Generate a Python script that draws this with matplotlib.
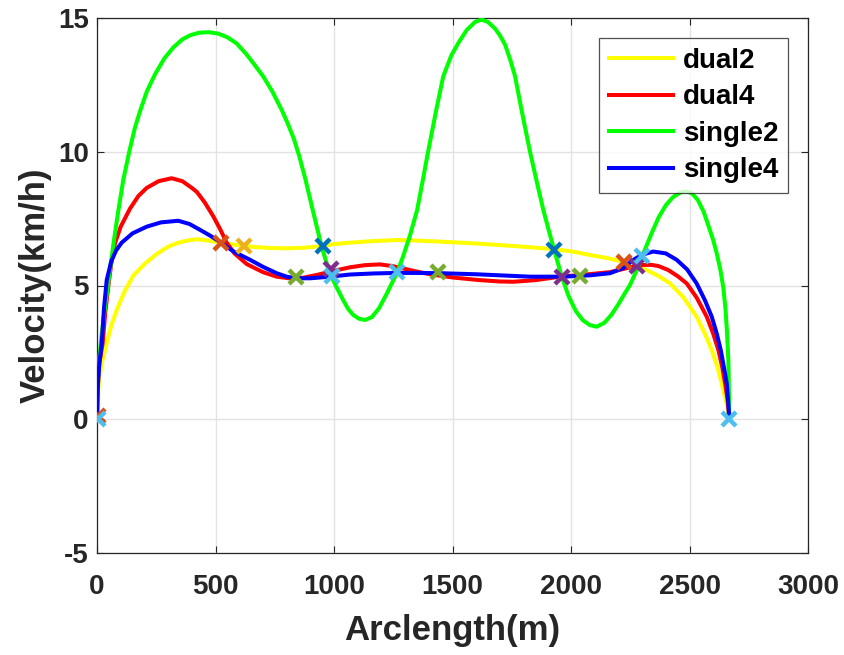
import matplotlib
matplotlib.use("Agg")
import matplotlib.pyplot as plt

plt.rcParams['font.family'] = ['Liberation Sans', 'DejaVu Sans']
plt.rcParams['font.weight'] = 'bold'
plt.rcParams['axes.unicode_minus'] = False

# dual2 (yellow)
dual2_x = [0, 3, 8, 20, 41, 60, 83, 115, 153, 200, 252, 300, 336, 380, 421, 470, 533, 600, 674, 740,
           800, 870, 948, 1000, 1067, 1165, 1265, 1350, 1447, 1560, 1686, 1800, 1925, 2000, 2080, 2150,
           2221, 2270, 2319, 2370, 2418, 2475, 2530, 2565, 2594, 2618, 2636, 2652, 2662, 2668]
dual2_v = [0, 0.8, 1.4, 2.1, 2.85, 3.5, 4.08, 4.75, 5.37, 5.8, 6.18, 6.45, 6.58, 6.68, 6.73, 6.68, 6.58, 6.5, 6.43, 6.4,
           6.39, 6.41, 6.47, 6.55, 6.6, 6.66, 6.7, 6.68, 6.64, 6.59, 6.52, 6.45, 6.36, 6.28, 6.14, 6.03,
           5.89, 5.75, 5.58, 5.35, 5.08, 4.55, 3.83, 3.2, 2.58, 1.95, 1.34, 0.75, 0.35, 0]

# dual4 (red)
dual4_x = [0, 2, 5, 10, 24, 35, 48, 60, 76, 100, 139, 175, 210, 260, 315, 360, 400, 421, 455, 491,
           520, 547, 580, 632, 700, 758, 810, 870, 930, 1000, 1067, 1130, 1194, 1250, 1300, 1350, 1405,
           1500, 1616, 1700, 1757, 1850, 1954, 2050, 2165, 2250, 2305, 2340, 2368, 2410, 2450, 2488,
           2530, 2573, 2600, 2622, 2638, 2650, 2660, 2665, 2668]
dual4_v = [0, 0.8, 1.5, 2.1, 2.85, 4.0, 5.0, 5.8, 6.58, 7.2, 7.87, 8.35, 8.65, 8.9, 9.01, 8.9, 8.65, 8.5, 8.1, 7.58,
           7.1, 6.6, 6.2, 5.8, 5.5, 5.33, 5.27, 5.29, 5.4, 5.55, 5.68, 5.76, 5.79, 5.72, 5.62, 5.52, 5.42,
           5.3, 5.2, 5.15, 5.14, 5.2, 5.33, 5.4, 5.5, 5.68, 5.77, 5.77, 5.73, 5.58, 5.35, 5.08,
           4.55, 3.83, 3.2, 2.58, 1.95, 1.34, 0.75, 0.35, 0]

# single2 (green)
single2_x = [0, 2, 5, 10, 20, 34, 52, 70, 90, 111, 136, 160, 181, 210, 245, 285, 322, 360, 392, 430,
             470, 510, 550, 589, 630, 665, 701, 740, 779, 805, 830, 853, 880, 910, 930, 948, 965, 983,
             1010, 1039, 1060, 1081, 1105, 1131, 1160, 1190, 1220, 1245, 1265, 1290, 1320, 1351, 1375, 1397,
             1430, 1461, 1495, 1525, 1560, 1595, 1623, 1650, 1680, 1700, 1722, 1745, 1764, 1795,
             1827, 1855, 1883, 1905, 1928, 1961, 1990, 2020, 2050, 2080, 2108, 2140, 2170,
             2200, 2230, 2249, 2284, 2310, 2340, 2370, 2400, 2430, 2460, 2485, 2510, 2535, 2560, 2585,
             2600, 2615, 2630, 2643, 2652, 2658, 2664, 2666, 2668]
single2_v = [0, 0.9, 1.6, 2.3, 3.2, 4.2, 5.4, 6.6, 7.8, 8.95, 10.0, 10.9, 11.5, 12.25, 12.9, 13.5, 13.9, 14.2, 14.35, 14.45,
             14.47, 14.42, 14.28, 14.05, 13.65, 13.25, 12.82, 12.25, 11.57, 11.05, 10.5, 9.85, 8.95, 7.83, 7.1, 6.45, 5.95, 5.45,
             4.95, 4.45, 4.12, 3.9, 3.76, 3.71, 3.82, 4.15, 4.65, 5.1, 5.46, 6.05, 6.85, 7.83, 8.95, 10.0,
             11.5, 12.82, 13.6, 14.07, 14.55, 14.85, 14.94, 14.85, 14.6, 14.35, 14.0, 13.4, 12.82, 11.4,
             10.0, 8.9, 7.83, 7.1, 6.36, 5.33, 4.6, 4.05, 3.7, 3.52, 3.46, 3.6, 3.9,
             4.3, 4.75, 5.02, 5.70, 6.3, 6.95, 7.55, 8.0, 8.3, 8.47, 8.52, 8.45, 8.2, 7.75, 7.1,
             6.7, 6.2, 5.6, 4.9, 4.1, 3.3, 2.2, 1.2, 0]

# single4 (blue)
single4_x = [0, 2, 5, 10, 20, 30, 41, 60, 80, 104, 150, 210, 270, 343, 390, 435, 480, 526, 580, 646,
             700, 758, 800, 843, 900, 983, 1067, 1165, 1265, 1350, 1447, 1600, 1700, 1827, 1968, 2080,
             2165, 2220, 2263, 2300, 2347, 2400, 2446, 2490, 2530, 2565, 2594, 2615, 2632, 2645, 2657,
             2663, 2668]
single4_v = [0, 0.8, 1.5, 2.1, 2.85, 4.2, 5.2, 5.9, 6.3, 6.6, 6.95, 7.2, 7.36, 7.42, 7.3, 7.08, 6.85, 6.58, 6.25, 5.96,
             5.7, 5.46, 5.33, 5.27, 5.27, 5.33, 5.41, 5.45, 5.47, 5.47, 5.46, 5.42, 5.38, 5.33, 5.33, 5.38,
             5.46, 5.65, 5.96, 6.15, 6.27, 6.2, 5.96, 5.6, 5.08, 4.45, 3.83, 3.2, 2.58, 1.95, 1.34,
             0.7, 0]

# waypoint markers
wp_x = [5, 522, 622, 840, 952, 986, 990, 1267, 1440, 1928, 1963, 2038, 2225, 2280, 2301, 5, 2668]
wp_v = [0.12, 6.58, 6.48, 5.31, 6.48, 5.61, 5.36, 5.49, 5.49, 6.33, 5.31, 5.36, 5.86, 5.73, 6.10, 0, 0]
wp_c = ['#D95319', '#D95319', '#EDB120', '#77AC30', '#0072BD', '#7E2F8E', '#4DBEEE', '#4DBEEE',
        '#77AC30', '#0072BD', '#7E2F8E', '#77AC30', '#D95319', '#7E2F8E', '#4DBEEE', '#4DBEEE', '#4DBEEE']

series = [("dual2", dual2_x, dual2_v, "#FFFF00"),
          ("dual4", dual4_x, dual4_v, "#FF0000"),
          ("single2", single2_x, single2_v, "#00FF00"),
          ("single4", single4_x, single4_v, "#0000FF")]

fig = plt.figure(figsize=(8.45, 6.55), dpi=100)
ax = fig.add_axes([97/845, 102/655, 711/845, 535/655])

for name, xs, vs, c in series:
    ax.plot(xs, vs, color=c, lw=2.9, label=name, zorder=3, solid_joinstyle='round')

for x, v, c in zip(wp_x, wp_v, wp_c):
    ax.plot([x], [v], marker='x', color=c, ms=10, mew=3.2, ls='none', zorder=5)

ax.set_xlim(0, 3000)
ax.set_ylim(-5, 15)
ax.set_xticks([0, 500, 1000, 1500, 2000, 2500, 3000])
ax.set_yticks([-5, 0, 5, 10, 15])
ax.grid(True, color='#e3e3e3', lw=1)
ax.set_axisbelow(True)
ax.tick_params(direction='in', top=True, right=True, length=5, color='#262626',
               labelsize=20, labelcolor='#262626')
ax.tick_params(axis='x', pad=15)
ax.tick_params(axis='y', pad=6)
for lab in ax.get_xticklabels() + ax.get_yticklabels():
    lab.set_fontweight('bold')
for s in ax.spines.values():
    s.set_color('#262626')
    s.set_linewidth(0.9)

ax.set_xlabel("Arclength(m)", fontsize=25, fontweight='bold', color='#262626', labelpad=10)
ax.set_ylabel("Velocity(km/h)", fontsize=25, fontweight='bold', color='#262626', labelpad=4)

leg = ax.legend(loc='upper right', bbox_to_anchor=(691/711, 515/535), borderaxespad=0,
                fontsize=20, frameon=True, fancybox=False, edgecolor='#262626',
                handlelength=2.3, labelspacing=0.38, borderpad=0.35, handletextpad=0.35)
leg.get_frame().set_linewidth(0.9)
for t in leg.get_texts():
    t.set_fontweight('bold')

fig.savefig("out.png", dpi=100)
